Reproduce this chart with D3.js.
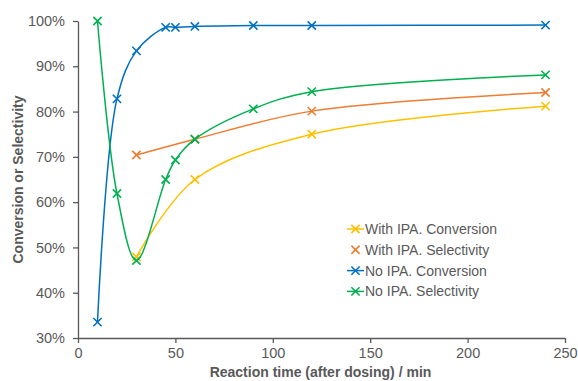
<!DOCTYPE html>
<html>
<head>
<meta charset="utf-8">
<script src="https://cdn.jsdelivr.net/npm/d3@7"></script>
<style>
  body { margin: 0; background: #fff; }
  svg { font-family: "Liberation Sans", Arial, sans-serif; }
</style>
</head>
<body>
<figure id="chart" style="margin:0"></figure>
<script>
// data
const seriesNames = ["With IPA. Conversion", "With IPA. Selectivity", "No IPA. Conversion", "No IPA. Selectivity"];
const seriesColors = ["#FFC000", "#ED7D31", "#0070C0", "#00B050"];
const withIpaTime = [30, 60, 120, 240];
const withIpaConversion = [47.9, 65.0, 75.0, 81.2];
const withIpaSelectivity = [70.4, 73.9, 80.1, 84.2];
const noIpaTime = [10, 20, 30, 45, 50, 60, 90, 120, 240];
const noIpaConversion = [33.5, 82.8, 93.4, 98.6, 98.6, 98.8, 99.0, 99.0, 99.1];
const noIpaSelectivity = [100, 61.9, 47.1, 65.0, 69.3, 73.9, 80.6, 84.4, 88.1];
const xTicks = [0, 50, 100, 150, 200, 250];
const yTicks = [30, 40, 50, 60, 70, 80, 90, 100];

const series = [
  { name: seriesNames[0], color: seriesColors[0], x: withIpaTime, y: withIpaConversion, legendLine: true },
  { name: seriesNames[1], color: seriesColors[1], x: withIpaTime, y: withIpaSelectivity, legendLine: false },
  { name: seriesNames[2], color: seriesColors[2], x: noIpaTime, y: noIpaConversion, legendLine: true },
  { name: seriesNames[3], color: seriesColors[3], x: noIpaTime, y: noIpaSelectivity, legendLine: true }
];

const width = 578, height = 381;
const margin = { top: 21, right: 13, bottom: 43, left: 78 };
const innerW = width - margin.left - margin.right;
const innerH = height - margin.top - margin.bottom;
const textColor = "#595959";

const svg = d3.select("figure#chart")
  .append("svg")
  .attr("width", width)
  .attr("height", height);

const g = svg.append("g")
  .attr("transform", "translate(" + margin.left + "," + margin.top + ")");

const x = d3.scaleLinear().domain([0, 250]).range([0, innerW]);
const y = d3.scaleLinear().domain([30, 100]).range([innerH, 0]);

// y axis
const yAxis = g.append("g")
  .call(d3.axisLeft(y).tickValues(yTicks).tickSize(5).tickSizeOuter(0).tickFormat(d => d + "%"));
yAxis.select(".domain").attr("stroke", textColor).attr("stroke-width", 1.3);
yAxis.selectAll(".tick line").attr("stroke", textColor).attr("stroke-width", 1.3);
yAxis.selectAll("text").attr("fill", textColor).attr("font-size", 14.5).attr("x", -13);

// x axis
const xAxis = g.append("g")
  .attr("transform", "translate(0," + innerH + ")")
  .call(d3.axisBottom(x).tickValues(xTicks).tickSize(5).tickSizeOuter(0));
xAxis.select(".domain").attr("stroke", textColor).attr("stroke-width", 1.3);
xAxis.selectAll(".tick line").attr("stroke", textColor).attr("stroke-width", 1.3);
xAxis.selectAll("text").attr("fill", textColor).attr("font-size", 14.5).attr("y", 10);

// axis titles
svg.append("text")
  .attr("x", margin.left + innerW / 2 - 1)
  .attr("y", 377)
  .attr("text-anchor", "middle")
  .attr("font-size", 14)
  .attr("font-weight", "bold")
  .attr("fill", textColor)
  .text("Reaction time (after dosing) / min");

svg.append("text")
  .attr("transform", "translate(23," + (margin.top + innerH / 2) + ") rotate(-90)")
  .attr("text-anchor", "middle")
  .attr("font-size", 14)
  .attr("font-weight", "bold")
  .attr("fill", textColor)
  .text("Conversion or Selectivity");

// smoothed lines, like excel
const line = d3.line()
  .x(d => x(d[0]))
  .y(d => y(d[1]))
  .curve(d3.curveCatmullRom.alpha(0.5));

const cross = d3.symbol().type(d3.symbolX).size(46);

series.forEach(s => {
  const pts = s.x.map((t, i) => [t, s.y[i]]);
  g.append("path")
    .datum(pts)
    .attr("fill", "none")
    .attr("stroke", s.color)
    .attr("stroke-width", 1.5)
    .attr("d", line);
  g.selectAll(null)
    .data(pts)
    .enter()
    .append("path")
    .attr("transform", d => "translate(" + x(d[0]) + "," + y(d[1]) + ")")
    .attr("d", cross)
    .attr("fill", "none")
    .attr("stroke", s.color)
    .attr("stroke-width", 1.6);
});

// legend
const legend = svg.append("g").attr("transform", "translate(347,229)");
series.forEach((s, i) => {
  const row = legend.append("g").attr("transform", "translate(0," + (i * 20.8) + ")");
  if (s.legendLine) {
    row.append("line")
      .attr("x1", 0).attr("x2", 17)
      .attr("stroke", s.color).attr("stroke-width", 1.5);
  }
  row.append("path")
    .attr("transform", "translate(8.5,0)")
    .attr("d", cross)
    .attr("fill", "none")
    .attr("stroke", s.color)
    .attr("stroke-width", 1.6);
  row.append("text")
    .attr("x", 18)
    .attr("dy", "0.35em")
    .attr("font-size", 14)
    .attr("fill", textColor)
    .text(s.name);
});
</script>
</body>
</html>
